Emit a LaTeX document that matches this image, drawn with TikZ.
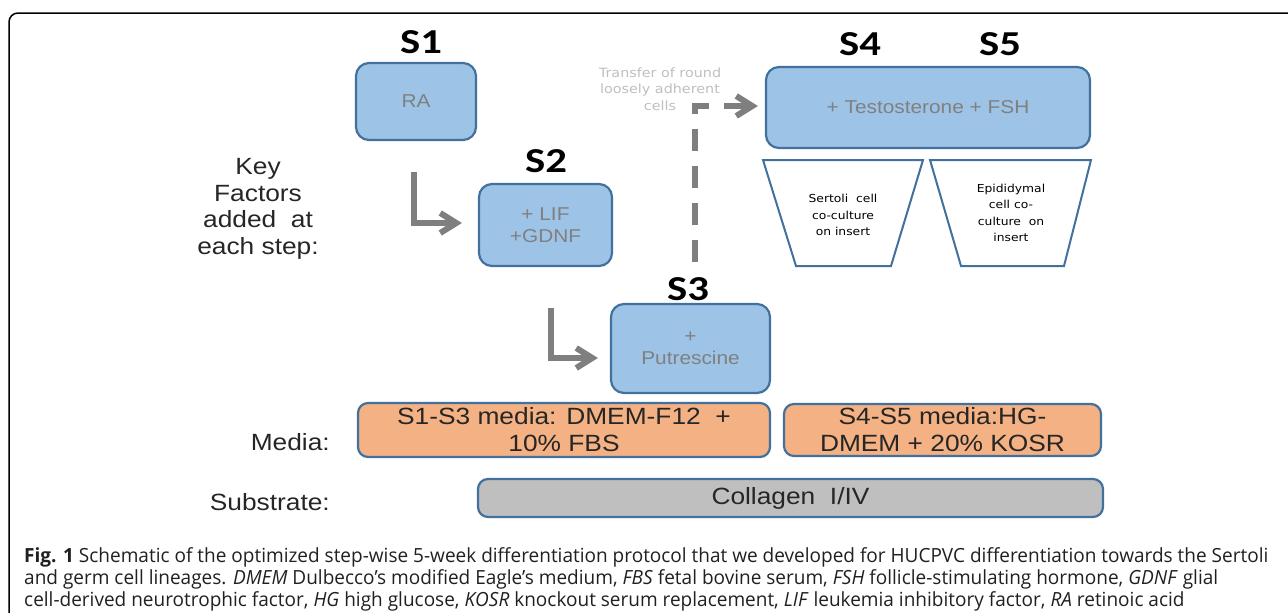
\documentclass[tikz,border=0pt]{standalone}
\usepackage{fontspec}
\setmainfont{Liberation Sans}
\newfontfamily\diafont[FakeStretch=1.12]{Liberation Sans}
\newfontfamily\labfont[FakeStretch=1.22]{Carlito}
\newfontfamily\verfont[FakeStretch=1.12]{DejaVu Sans}
\newfontfamily\capfont[FakeStretch=0.975]{Open Sans}
\usetikzlibrary{arrows.meta,calc}
\definecolor{boxblue}{HTML}{9DC3E6}
\definecolor{edgeblue}{HTML}{41719C}
\definecolor{arrowgrey}{HTML}{7F7F7F}
\definecolor{txtgrey}{HTML}{808080}
\definecolor{faintgrey}{HTML}{BFBFBF}
\definecolor{orangefill}{HTML}{F4B183}
\definecolor{subgrey}{HTML}{BFBFBF}
\definecolor{darktxt}{HTML}{262626}
\definecolor{captxt}{HTML}{231F20}
\begin{document}
\begin{tikzpicture}[x=1pt,y=-1pt,
  stepbox/.style={draw=edgeblue, fill=boxblue, line width=2.2pt, rounded corners=13pt,
    align=center, text=txtgrey, font=\diafont\fontsize{18.6}{22}\selectfont, inner sep=0pt},
  mediabox/.style={draw=edgeblue, fill=orangefill, line width=2.2pt, rounded corners=10pt,
    align=center, text=darktxt, font=\diafont\fontsize{23.5}{27}\selectfont, inner sep=0pt},
  subbox/.style={mediabox, fill=subgrey},
  steplabel/.style={font=\labfont\bfseries\fontsize{35}{37}\selectfont, anchor=base, inner sep=0pt},
  sidelabel/.style={font=\diafont\fontsize{23.5}{26.5}\selectfont, text=darktxt, align=center, inner sep=0pt},
  insert/.style={draw=edgeblue, fill=white, line width=2pt, line join=miter},
  inserttext/.style={font=\verfont\fontsize{11}{16.5}\selectfont, align=center, inner sep=0pt},
  greyarrow/.style={draw=arrowgrey, line width=6pt, -{Straight Barb[length=16pt,width=20pt]}},
  captionline/.style={font=\capfont\fontsize{19.5}{22}\selectfont, text=captxt, anchor=base west, inner sep=0pt}
]
\useasboundingbox (0,0) rectangle (1288,613);
% frame
\draw[line width=1.5pt, rounded corners=9pt] (9,620) -- (9,13) -- (1295,13);

% step boxes
\node[stepbox, minimum width=120, minimum height=77] (s1) at (416,101.5) {RA};
\node[stepbox, minimum width=133, minimum height=82] (s2) at (545.5,225) {+ LIF\\+GDNF};
\node[stepbox, minimum width=159, minimum height=89] (s3) at (690.5,348.5) {+\\Putrescine};
\node[stepbox, minimum width=324, minimum height=81] (s45) at (928,107.5) {+ Testosterone + FSH};

% step labels
\node[steplabel] (l1) at (421,53) {S1};
\node[steplabel] (l2) at (546,172) {S2};
\node[steplabel] (l3) at (688,300) {S3};
\node[steplabel] (l4) at (860,55) {S4};
\node[steplabel] (l5) at (1000,55) {S5};

% inserts
\draw[insert] (763,160) -- (923,160) -- (891,266) -- (796,266) -- cycle;
\draw[insert] (930,160) -- (1091,160) -- (1064,266) -- (961,266) -- cycle;
\node[inserttext] (t4) at (843,215) {Sertoli\ \ cell\\co-culture\\on insert};
\node[inserttext] (t5) at (1011,213) {Epididymal\\cell co-\\culture\ \ on\\insert};

% side labels
\node[sidelabel] (key) at (258,209) {Key\\Factors\\added\ \ at\\each step:};
\node[sidelabel, anchor=base east] (med) at (330,450) {Media:};
\node[sidelabel, anchor=base east] (sub) at (330,510) {Substrate:};

% media and substrate
\node[mediabox, minimum width=412, minimum height=54] (m1) at (564,430) {S1-S3 media: DMEM-F12\ \ +\\10\% FBS};
\node[mediabox, minimum width=317, minimum height=52] (m2) at (942.5,430) {S4-S5 media:HG-\\DMEM + 20\% KOSR};
\node[subbox, minimum width=625, minimum height=38] (col) at (790.5,498) {Collagen\ \ I/IV};

% transfer note
\node[font=\verfont\fontsize{12.8}{16.5}\selectfont, text=faintgrey, align=center, inner sep=0pt] (tr) at (660,89) {Transfer of round\\loosely adherent\\cells};

% arrows
\coordinate (a1) at (414,172);
\coordinate (a2) at (551,308);
\coordinate (d0) at (695,262);
\draw[greyarrow] (a1) |- ($(s2.west)+(-16,-2)$);
\draw[greyarrow] (a2) |- ($(s3.west)+(-12,9.5)$);
\draw[greyarrow, dash pattern=on 22pt off 15pt] (d0) |- ($(s45.west)+(-7,-1.5)$);

% caption
\node[captionline] (c1) at (24,562) {\textbf{Fig. 1} Schematic of the optimized step-wise 5-week differentiation protocol that we developed for HUCPVC differentiation towards the Sertoli};
\node[captionline] (c2) at (24,584) {and germ cell lineages. \textit{DMEM} Dulbecco’s modified Eagle’s medium, \textit{FBS} fetal bovine serum, \textit{FSH} follicle-stimulating hormone, \textit{GDNF} glial};
\node[captionline] (c3) at (24,606) {cell-derived neurotrophic factor, \textit{HG} high glucose, \textit{KOSR} knockout serum replacement, \textit{LIF} leukemia inhibitory factor, \textit{RA} retinoic acid};
\end{tikzpicture}
\end{document}
